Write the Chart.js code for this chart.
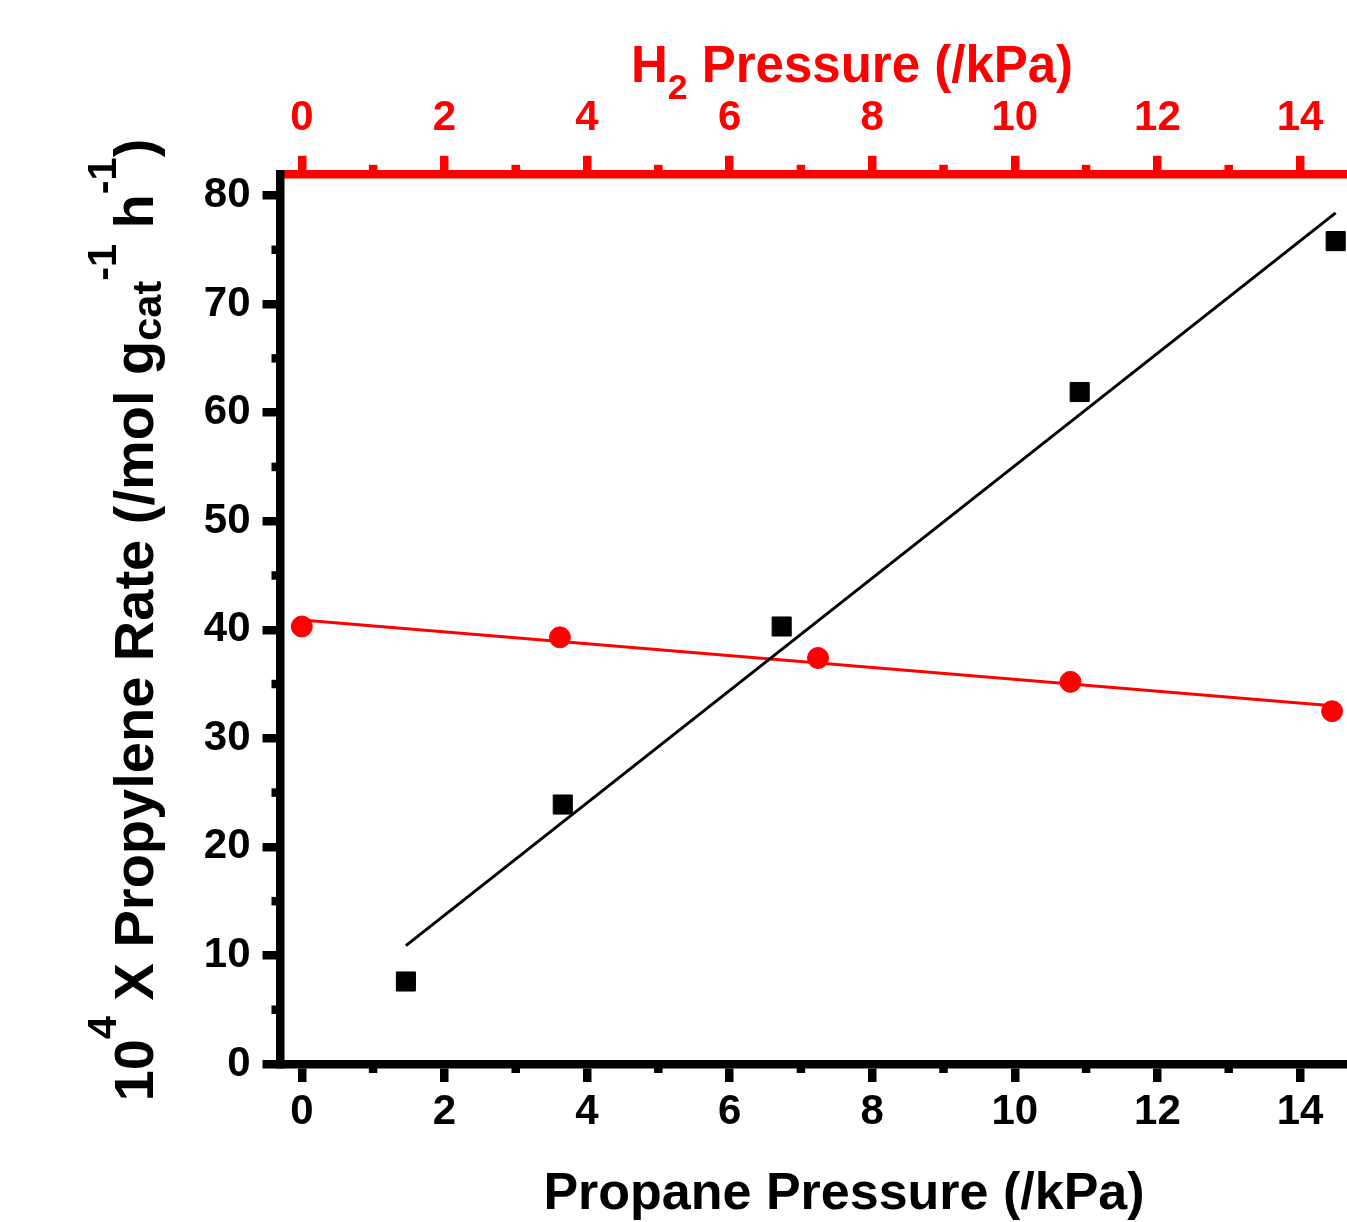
<!DOCTYPE html>
<html><head><meta charset="utf-8">
<script src="https://cdn.jsdelivr.net/npm/chart.js@4.4.1/dist/chart.umd.min.js"></script>
<style>html,body{margin:0;padding:0;background:#fff;overflow:hidden}canvas{display:block}</style>
</head><body>
<canvas id="c" width="1347" height="1222"></canvas>
<script>
// ---- data ----
const propanePressure = [1.46, 3.66, 6.73, 10.91, 14.50];
const rateVsPropane   = [7.6, 23.9, 40.3, 61.9, 75.8];
const h2Pressure      = [0, 3.62, 7.24, 10.78, 14.45];
const rateVsH2        = [40.3, 39.3, 37.4, 35.2, 32.5];
const propaneFitX = [1.46, 14.50];
const propaneFitY = [10.9, 78.4];
const h2FitX = [0, 14.45];
const h2FitY = [40.9, 33.0];
const xTicks = [0, 2, 4, 6, 8, 10, 12, 14];
const xMinorTicks = [1, 3, 5, 7, 9, 11, 13];
const yTicks = [0, 10, 20, 30, 40, 50, 60, 70, 80];
const yMinorTicks = [5, 15, 25, 35, 45, 55, 65, 75];
const xRange = [-0.299, 14.659];
const yRange = [0, 82];

const FAM = "'Liberation Sans', Arial, Helvetica, sans-serif";
const RED = '#ff0000';
const BLACK = '#000000';
const AXW = 8.5;

const pts = (xs, ys) => xs.map((x, i) => ({x, y: ys[i]}));

function drawRich(ctx, segs, x, y, F, angle, color) {
  ctx.save();
  ctx.translate(x, y);
  ctx.rotate(angle);
  ctx.fillStyle = color;
  ctx.textBaseline = 'alphabetic';
  ctx.textAlign = 'left';
  const widths = segs.map(s => { ctx.font = `bold ${F * s.s}px ${FAM}`; return ctx.measureText(s.t).width; });
  const total = widths.reduce((a, b) => a + b, 0);
  let cx = -total / 2;
  segs.forEach((s, i) => {
    ctx.font = `bold ${F * s.s}px ${FAM}`;
    ctx.fillText(s.t, cx, s.dy * F);
    cx += widths[i];
  });
  ctx.restore();
}

const extras = {
  id: 'extras',
  afterDraw(chart) {
    const ctx = chart.ctx;
    const ca = chart.chartArea;
    const sx = chart.scales.x, sx2 = chart.scales.x2, sy = chart.scales.y;
    const ml = 9;
    ctx.save();
    ctx.lineWidth = AXW;
    ctx.strokeStyle = BLACK;
    xMinorTicks.forEach(v => {
      const p = sx.getPixelForValue(v);
      ctx.beginPath(); ctx.moveTo(p, ca.bottom); ctx.lineTo(p, ca.bottom + ml); ctx.stroke();
    });
    yMinorTicks.forEach(v => {
      const p = sy.getPixelForValue(v);
      ctx.beginPath(); ctx.moveTo(ca.left, p); ctx.lineTo(ca.left - ml, p); ctx.stroke();
    });
    ctx.strokeStyle = RED;
    xMinorTicks.forEach(v => {
      const p = sx2.getPixelForValue(v);
      ctx.beginPath(); ctx.moveTo(p, ca.top); ctx.lineTo(p, ca.top - ml); ctx.stroke();
    });
    ctx.restore();

    // titles
    drawRich(ctx, [{t: 'Propane Pressure (/kPa)', s: 1, dy: 0}], 844, 1209, 52, 0, BLACK);
    drawRich(ctx, [
      {t: 'H', s: 1, dy: 0}, {t: '2', s: 0.7, dy: 0.34}, {t: ' Pressure (/kPa)', s: 1, dy: 0}
    ], 852, 82, 51, 0, RED);
    drawRich(ctx, [
      {t: '10', s: 1, dy: 0}, {t: '4', s: 0.74, dy: -0.66},
      {t: ' X Propylene Rate (/mol g', s: 1, dy: 0},
      {t: 'cat', s: 0.74, dy: 0.14}, {t: '-1', s: 0.74, dy: -0.66},
      {t: ' h', s: 1, dy: 0}, {t: '-1', s: 0.74, dy: -0.66}, {t: ')', s: 1, dy: 0}
    ], 153, 620, 56, -Math.PI / 2, BLACK);
  }
};

Chart.defaults.font.family = FAM;

function axisCommon(color, ticks, pad) {
  return {
    border: {display: true, color, width: AXW},
    grid: {display: true, drawOnChartArea: false, drawTicks: true, tickLength: 18,
           tickWidth: AXW, lineWidth: AXW, color, tickColor: color},
    ticks: {color, font: {size: 42, weight: 'bold', family: FAM}, padding: pad,
            maxRotation: 0, autoSkip: false},
    afterBuildTicks: s => { s.ticks = ticks.map(v => ({value: v})); }
  };
}
function fixPad(s) { s.paddingLeft = 0; s.paddingRight = 0; s.paddingTop = 0; s.paddingBottom = 0; }

new Chart(document.getElementById('c'), {
  type: 'scatter',
  data: {
    datasets: [
      {label: 'rate vs propane', data: pts(propanePressure, rateVsPropane), xAxisID: 'x', yAxisID: 'y',
       pointStyle: 'rect', pointRadius: 13.5, pointBackgroundColor: BLACK, pointBorderColor: BLACK,
       pointBorderWidth: 1, showLine: false},
      {label: 'propane fit', data: pts(propaneFitX, propaneFitY), xAxisID: 'x', yAxisID: 'y',
       showLine: true, borderColor: BLACK, borderWidth: 3, pointRadius: 0},
      {label: 'rate vs H2', data: pts(h2Pressure, rateVsH2), xAxisID: 'x2', yAxisID: 'y',
       pointStyle: 'circle', pointRadius: 10.5, pointBackgroundColor: RED, pointBorderColor: RED,
       pointBorderWidth: 1, showLine: false},
      {label: 'H2 fit', data: pts(h2FitX, h2FitY), xAxisID: 'x2', yAxisID: 'y',
       showLine: true, borderColor: RED, borderWidth: 3, pointRadius: 0}
    ]
  },
  options: {
    responsive: false,
    animation: false,
    devicePixelRatio: 1,
    layout: {padding: 0, autoPadding: false},
    plugins: {legend: {display: false}, tooltip: {enabled: false}, title: {display: false}},
    scales: {
      x: Object.assign(axisCommon(BLACK, xTicks, 5), {
        type: 'linear', position: 'bottom', min: xRange[0], max: xRange[1],
        afterFit: s => { s.height = 158; fixPad(s); }
      }),
      x2: Object.assign(axisCommon(RED, xTicks, 12), {
        type: 'linear', position: 'top', min: xRange[0], max: xRange[1],
        afterFit: s => { s.height = 173.8; fixPad(s); }
      }),
      y: Object.assign(axisCommon(BLACK, yTicks, 12), {
        type: 'linear', position: 'left', min: yRange[0], max: yRange[1],
        afterFit: s => { s.width = 280.5; fixPad(s); }
      })
    }
  },
  plugins: [extras]
});
</script>
</body></html>
